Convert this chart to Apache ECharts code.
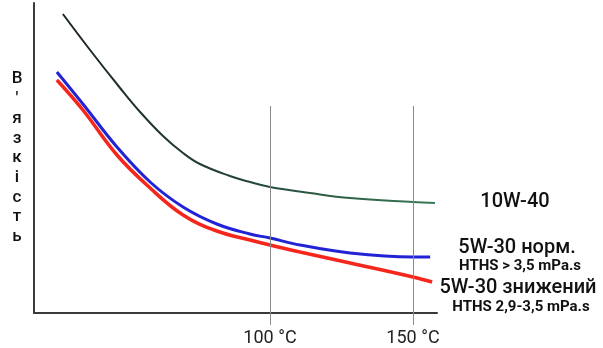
<!DOCTYPE html>
<html><head><meta charset="utf-8">
<script src="https://cdn.jsdelivr.net/npm/echarts@6/dist/echarts.min.js"></script>
<style>html,body{margin:0;padding:0;background:#fff}#c{width:603px;height:348px}</style>
</head><body><div id="c"></div>
<script>
// Temperature (°C) and relative viscosity values
const greenT = [27.6, 37.1, 47.6, 54.6, 62.6, 69.6, 75.5, 86, 93, 100, 114, 128, 150, 157.7];
const greenV = [299, 263, 225, 201, 177, 160, 149, 137, 131, 126, 120, 115, 111, 110];
const blueT = [25.5, 34.6, 46.5, 58.1, 69.6, 81.4, 93, 100, 110.5, 128, 150, 156];
const blueV = [241, 209, 166, 131, 106, 89, 79, 75, 68, 60, 56, 56];
const redT = [25.5, 34.6, 46.5, 58.1, 69.6, 81.4, 93, 100, 110.5, 128, 150, 156.7];
const redV = [233, 203, 158, 125, 98, 82, 73, 68, 61, 50, 36, 31];
const tickTemps = [100, 150];
const guideTop = 207;
const seriesNames = ['10W-40', '5W-30 норм.', '5W-30 знижений'];
const subNames = ['HTHS > 3,5 mPa.s', 'HTHS 2,9-3,5 mPa.s'];
const yName = "В'язкість";

const zip = (a, b) => a.map((v, i) => [v, b[i]]);
const chart = echarts.init(document.getElementById('c'));
const font = 'Roboto, "Noto Sans", sans-serif';
const lineBase = { type: 'line', smooth: 0.4, symbol: 'none' };
chart.setOption({
  animation: false,
  grid: { left: 34, top: 3, width: 403, bottom: 35 },
  xAxis: {
    type: 'value', min: 17.5, max: 158.4,
    axisLine: { lineStyle: { color: '#3a3a3a', width: 2 } },
    splitLine: { show: false },
    axisTick: { show: true, customValues: tickTemps, length: 12, lineStyle: { color: '#8a8a8a', width: 1 } },
    axisLabel: { customValues: tickTemps, formatter: '{value} °C', margin: 16, fontSize: 18, color: '#222', fontFamily: font }
  },
  yAxis: {
    type: 'value', min: 0, max: 310,
    axisLine: { show: true, lineStyle: { color: '#3a3a3a', width: 2 } },
    axisTick: { show: false }, axisLabel: { show: false }, splitLine: { show: false },
    name: yName.split('').join('\n'), nameLocation: 'middle', nameRotate: 0, nameGap: 17,
    nameTextStyle: { fontSize: 17, fontWeight: 500, lineHeight: 19.7, color: '#111', fontFamily: font, align: 'center', verticalAlign: 'middle' }
  },
  series: [
    Object.assign({}, lineBase, {
      name: seriesNames[0],
      data: zip(greenT, greenV),
      lineStyle: { width: 2, color: { type: 'linear', x: 0, y: 0, x2: 1, y2: 0, colorStops: [{ offset: 0, color: '#1c2420' }, { offset: 0.5, color: '#24473a' }, { offset: 1, color: '#3a7a55' }] } },
      markLine: {
        silent: true, symbol: 'none', label: { show: false },
        lineStyle: { color: '#8a8a8a', width: 1, type: 'solid' },
        data: tickTemps.map(t => [{ coord: [t, guideTop] }, { coord: [t, 0] }])
      }
    }),
    Object.assign({}, lineBase, { name: seriesNames[1], data: zip(blueT, blueV), lineStyle: { width: 3, color: '#2323d6' }, z: 3 }),
    Object.assign({}, lineBase, { name: seriesNames[2], data: zip(redT, redV), lineStyle: { width: 3.5, color: '#f5261c' }, z: 4 })
  ],
  graphic: [
    { type: 'text', x: 515, y: 202, style: { text: seriesNames[0], font: '500 20px ' + font, fill: '#111', align: 'center', verticalAlign: 'middle' } },
    { type: 'text', x: 517, y: 248, style: { text: seriesNames[1], font: '500 20px ' + font, fill: '#111', align: 'center', verticalAlign: 'middle' } },
    { type: 'text', x: 520, y: 266, style: { text: subNames[0], font: 'bold 15px ' + font, fill: '#111', align: 'center', verticalAlign: 'middle' } },
    { type: 'text', x: 518, y: 288, style: { text: seriesNames[2], font: '500 20px ' + font, fill: '#111', align: 'center', verticalAlign: 'middle' } },
    { type: 'text', x: 521, y: 307, style: { text: subNames[1], font: 'bold 15px ' + font, fill: '#111', align: 'center', verticalAlign: 'middle' } }
  ]
});
</script></body></html>
